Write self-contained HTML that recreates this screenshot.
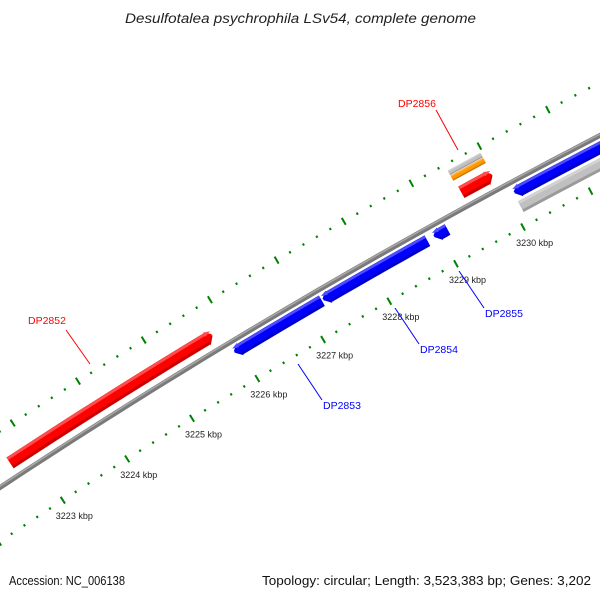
<!DOCTYPE html>
<html><head><meta charset="utf-8"><style>
html,body{margin:0;padding:0;background:#fff;width:600px;height:600px;overflow:hidden;}
svg{display:block;font-family:"Liberation Sans","DejaVu Sans",sans-serif;}
</style></head><body>
<svg id="map" width="600" height="600" viewBox="0 0 600 600" xmlns="http://www.w3.org/2000/svg">
<defs>
<clipPath id="clip"><rect x="0" y="30" width="600" height="530"/></clipPath>
</defs>
<rect width="600" height="600" fill="#fff"/>
<text x="125" y="23" font-size="13.5" font-style="italic" fill="#222" textLength="351" lengthAdjust="spacingAndGlyphs">Desulfotalea psychrophila LSv54, complete genome</text>
<g id="plot" clip-path="url(#clip)"></g>
<g id="labels">
<line x1="66" y1="330" x2="90" y2="364" stroke="red" stroke-width="1"/>
<text x="28" y="324" font-size="10.5" fill="red">DP2852</text>
<line x1="298" y1="364" x2="322" y2="400" stroke="blue" stroke-width="1"/>
<text x="323" y="409" font-size="10.5" fill="blue">DP2853</text>
<line x1="395" y1="308" x2="419" y2="344" stroke="blue" stroke-width="1"/>
<text x="420" y="353" font-size="10.5" fill="blue">DP2854</text>
<line x1="459" y1="271" x2="484" y2="308" stroke="blue" stroke-width="1"/>
<text x="485" y="317" font-size="10.5" fill="blue">DP2855</text>
<line x1="436" y1="110" x2="458" y2="150" stroke="red" stroke-width="1"/>
<text x="398" y="107" font-size="10.5" fill="red">DP2856</text>
</g>
<text x="9" y="585" font-size="12.5" fill="#111" textLength="116" lengthAdjust="spacingAndGlyphs">Accession: NC_006138</text>
<text x="591" y="585" text-anchor="end" font-size="12.5" fill="#111" textLength="329" lengthAdjust="spacingAndGlyphs">Topology: circular; Length: 3,523,383 bp; Genes: 3,202</text>
</svg>
<script>
// data
const featureNames = ["DP2852","DP2853","DP2854","DP2855","DP2856","gene-right-blue","gene-right-grey","orange-feature","grey-feature"];
const featureStart = [3222.69,3225.92,3227.26,3228.92,3229.51,3230.11,3230.10,3229.49,3229.49];
const featureEnd   = [3225.79,3227.24,3228.82,3229.12,3229.97,3240.0,3240.0,3229.97,3229.97];
const featureStrand = [1,-1,-1,-1,1,-1,0,0,0];
const featureTrack = ["fwd","rev","rev","rev","fwd","rev","rev2","fwd2","fwd3"];
const featureColor = ["#ff0000","#0000ff","#0000ff","#0000ff","#ff0000","#0000ff","#c0c0c0","#ff9900","#c0c0c0"];
const tickLabelsKbp = [3223,3224,3225,3226,3227,3228,3229,3230];
const tickMin = 3221, tickMax = 3233;

// geometry (axis functions)
const CX = 3643, CY = 6009, R = 6615;
const A0 = -2.1471, DA = 0.01164;
const trackR = {fwd:R+15, fwd2:R+32, fwd3:R+38, rev:R-11, rev2:R-26};
const trackT = {fwd:13, fwd2:6, fwd3:5, rev:12, rev2:12};
function ang(k){ return A0 + (k-3223)*DA; }
function pt(k,r){ const a=ang(k); return [CX + r*Math.cos(a), CY + r*Math.sin(a)]; }
const NS="http://www.w3.org/2000/svg";
const plot=document.getElementById('plot');
function mk(tag,attrs){ const e=document.createElementNS(NS,tag); for(const k in attrs) e.setAttribute(k,attrs[k]); return e; }

// backbone
(function(){
  let d="";
  for(let k=3219;k<=3236;k+=0.25){ const p=pt(k,R); d+=(d?"L":"M")+p[0].toFixed(2)+","+p[1].toFixed(2); }
  const bb=mk('path',{d:d,fill:'none',stroke:'#7a7a7a','stroke-width':5});
  
  
  plot.appendChild(bb);
  const hl=mk('path',{d:d,fill:'none',stroke:'#a8a8a8','stroke-width':1.5,transform:'translate(-0.6,-1)'});
  
  
  plot.appendChild(hl);
})();

// ticks
function drawTrack(r,name){
  const g=mk('g',{});
  
  
  for(let i=0;i<=Math.round((tickMax-tickMin)/0.2);i++){
    const k=tickMin+i*0.2;
    const major=Math.abs(k-Math.round(k))<1e-6;
    const h=major?4:1.2;
    const a=pt(k,r-h), b=pt(k,r+h);
    const l=mk('line',{x1:a[0],y1:a[1],x2:b[0],y2:b[1],stroke:'#008000','stroke-width':2});
    
    
    g.appendChild(l);
  }
  plot.appendChild(g);
}
drawTrack(R+47,'upper-tick-track');
drawTrack(R-45,'lower-tick-track');

// tick labels
tickLabelsKbp.forEach(k=>{
  const p=pt(k,R-45);
  const t=mk('text',{x:(p[0]-7).toFixed(1),y:(p[1]+19).toFixed(1),'font-size':'9','fill':'#222'});
  t.textContent=k+" kbp";
  
  
  plot.appendChild(t);
});

// features
function bandPath(k1,k2,rc,t,strand){
  const head=0.085;
  const ri=rc-t/2, ro=rc+t/2;
  let s=k1, e=k2;
  const pts=[];
  const n=Math.max(2,Math.ceil((e-s)/0.25));
  let bs = strand<0 ? s+head : s;
  let be = strand>0 ? e-head : e;
  if(be<bs){ bs=be=(s+e)/2; }
  for(let i=0;i<=n;i++){ pts.push(pt(bs+(be-bs)*i/n,ro)); }
  if(strand>0){ pts.push(pt(be,ro+1)); pts.push(pt(e,rc)); pts.push(pt(be,ri-1)); }
  for(let i=n;i>=0;i--){ pts.push(pt(bs+(be-bs)*i/n,ri)); }
  if(strand<0){ pts.push(pt(bs,ri-1)); pts.push(pt(s,rc)); pts.push(pt(bs,ro+1)); }
  return "M"+pts.map(p=>p[0].toFixed(2)+","+p[1].toFixed(2)).join("L")+"Z";
}
function shade(c,f){
  const n=parseInt(c.slice(1),16); let r=n>>16,g=(n>>8)&255,b=n&255;
  if(f>0){ r=r+(255-r)*f; g=g+(255-g)*f; b=b+(255-b)*f; } else { r*=1+f; g*=1+f; b*=1+f; }
  return "rgb("+Math.round(r)+","+Math.round(g)+","+Math.round(b)+")";
}
featureNames.forEach((nm,i)=>{
  const tr=featureTrack[i], rc=trackR[tr], t=trackT[tr];
  const g=mk('g',{});
  
  
  const base=mk('path',{d:bandPath(featureStart[i],featureEnd[i],rc,t,featureStrand[i]),fill:shade(featureColor[i],-0.2)});
  
  
  g.appendChild(base);
  const mid=mk('path',{d:bandPath(featureStart[i],featureEnd[i],rc+t*0.12,t*0.76,featureStrand[i]),fill:featureColor[i]});
  
  
  g.appendChild(mid);
  const top=mk('path',{d:bandPath(featureStart[i],featureEnd[i],rc+t*0.38,t*0.22,featureStrand[i]),fill:shade(featureColor[i],0.3)});
  
  
  g.appendChild(top);
  plot.appendChild(g);
});
</script>
</body></html>
